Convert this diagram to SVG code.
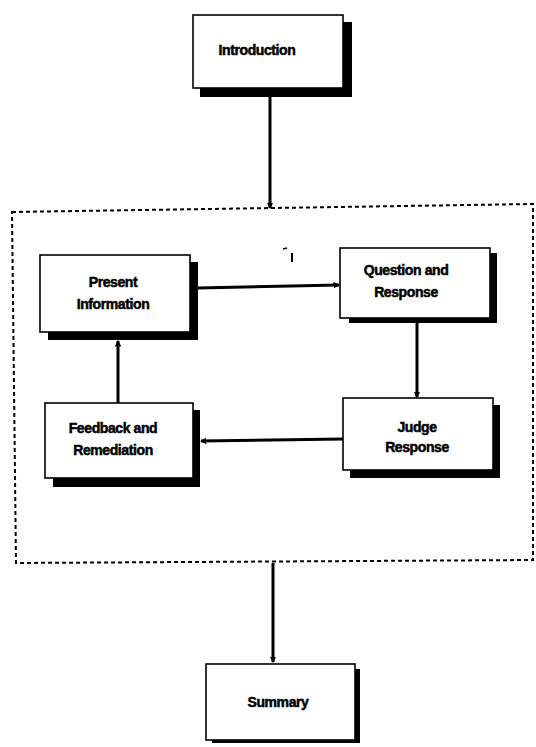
<svg xmlns="http://www.w3.org/2000/svg" width="536" height="747" viewBox="0 0 536 747">
  <style>
    .box { fill: #fff; stroke: #000; stroke-width: 1.6; }
    .shadow { fill: #000; }
    .label { font-family: "Liberation Sans", Arial, sans-serif; font-weight: bold; font-size: 14px; fill: #000; stroke: #000; stroke-width: 0.5; text-anchor: middle; letter-spacing: -0.4px; }
    .wire { stroke: #000; stroke-width: 3; fill: none; marker-end: url(#dot); }
    .frame { fill: none; stroke: #000; stroke-width: 2; stroke-dasharray: 4 3; }
  </style>
  <defs>
    <marker id="dot" viewBox="0 0 6 6" refX="5" refY="3" markerWidth="2.2" markerHeight="2.2" orient="auto">
      <path d="M0,0 L6,3 L0,6 z" fill="#000"/>
    </marker>
  </defs>
  <rect width="536" height="747" fill="#fff"/>

  <!-- dashed boundary around the instruction loop -->
  <path class="frame" d="M12,212 L533,204 L533,560 L16,563 Z"/>

  <!-- connectors -->
  <g id="connectors">
    <line class="wire" x1="270" y1="97" x2="270" y2="208"/>
    <line class="wire" x1="198" y1="288" x2="339" y2="285"/>
    <line class="wire" x1="417" y1="323" x2="417" y2="397"/>
    <line class="wire" x1="343" y1="439" x2="201" y2="441"/>
    <line class="wire" x1="118" y1="403" x2="118" y2="341"/>
    <line class="wire" x1="273" y1="563" x2="273" y2="662"/>
  </g>

  <!-- small stray marks near the top of the loop -->
  <line x1="283" y1="249" x2="287" y2="248" stroke="#000" stroke-width="1.5"/>
  <line x1="292" y1="253" x2="292" y2="262" stroke="#000" stroke-width="2"/>

  <g id="introduction">
    <rect class="shadow" x="200" y="22" width="152" height="75"/>
    <rect class="box" x="193" y="15" width="150" height="73"/>
    <text class="label" x="257" y="55">Introduction</text>
  </g>

  <g id="present-information">
    <rect class="shadow" x="48" y="262" width="150" height="78"/>
    <rect class="box" x="40" y="255" width="150" height="77"/>
    <text class="label" x="113" y="287">Present</text>
    <text class="label" x="113" y="309">Information</text>
  </g>

  <g id="question-response">
    <rect class="shadow" x="349" y="253" width="148" height="70"/>
    <rect class="box" x="340" y="248" width="150" height="70"/>
    <text class="label" x="406" y="275">Question and</text>
    <text class="label" x="406" y="297">Response</text>
  </g>

  <g id="judge-response">
    <rect class="shadow" x="350" y="405" width="150" height="73"/>
    <rect class="box" x="343" y="398" width="150" height="72"/>
    <text class="label" x="417" y="432">Judge</text>
    <text class="label" x="417" y="452">Response</text>
  </g>

  <g id="feedback-remediation">
    <rect class="shadow" x="53" y="410" width="147" height="77"/>
    <rect class="box" x="45" y="403" width="148" height="75"/>
    <text class="label" x="113" y="433">Feedback and</text>
    <text class="label" x="113" y="455">Remediation</text>
  </g>

  <g id="summary">
    <rect class="shadow" x="212" y="669" width="148" height="74"/>
    <rect class="box" x="206" y="664" width="149" height="76"/>
    <text class="label" x="278" y="707">Summary</text>
  </g>
</svg>
